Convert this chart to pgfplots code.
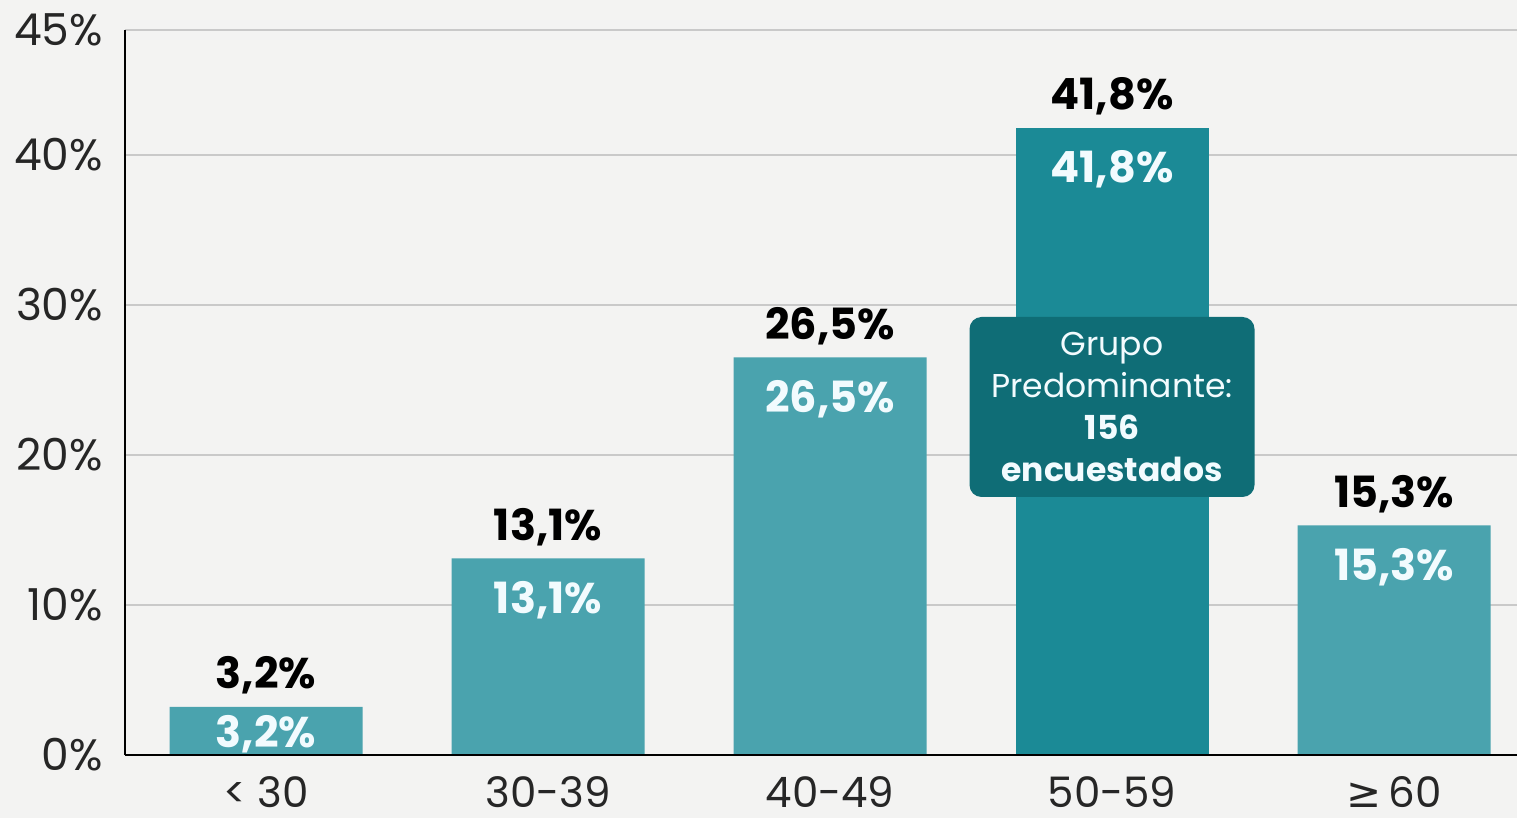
\documentclass[border=0pt]{standalone}
\usepackage{pgfplots}
\pgfplotsset{compat=1.18}
\usepackage{fontspec}
\setmainfont{Poppins}
\newfontfamily\dejavu{DejaVu Sans}
\definecolor{bg}{HTML}{F3F3F2}
\definecolor{barlight}{HTML}{4AA3AE}
\definecolor{bardark}{HTML}{1B8A96}
\definecolor{boxc}{HTML}{0F6D76}
\definecolor{gridc}{HTML}{C9C9C9}
\begin{document}
\begin{tikzpicture}
\fill[bg] (0,0) rectangle (758.5bp,409bp);
\useasboundingbox (0,0) rectangle (758.5bp,409bp);
\begin{axis}[
  at={(62.5bp,31.5bp)}, anchor=south west,
  scale only axis, width=696bp, height=362.5bp,
  xmin=-0.5, xmax=4.436, ymin=0, ymax=48.333,
  axis x line*=bottom, axis y line*=left,
  axis line style={-, black, line width=0.8pt},
  xtick={0,1,2,3,4},
  xticklabels={< 30, 30-39, 40-49, 50-59, {{\dejavu ≥}\,60}},
  ytick={0,10,20,30,40,48.333},
  yticklabels={0\%,10\%,20\%,30\%,40\%,45\%},
  ymajorgrids, grid style={gridc, line width=0.6pt},
  major tick length=0pt,
  tick label style={font=\fontsize{22bp}{25bp}\selectfont, text=black!85},
  yticklabel style={xshift=-7.5bp},
  xticklabel style={inner sep=0pt, anchor=north, yshift=-10.5bp,
    font=\fontsize{21bp}{24bp}\selectfont},
  ybar, bar width=96.5bp, bar shift=0pt,
  /pgf/number format/assume math mode=true,
  /pgf/number format/.cd, fixed, fixed zerofill, precision=1, use comma,
  /pgfplots/.cd,
  nodes near coords={\pgfmathprintnumber{\pgfplotspointmeta}\%},
]
% light bars with black labels above
\addplot[fill=barlight, draw=none,
  every node near coord/.append style={anchor=base, yshift=9bp,
    font=\fontsize{21.5bp}{26bp}\selectfont\bfseries, text=black}]
  coordinates {(0,3.2) (1,13.1) (2,26.5) (4,15.3)};
% dark highlighted bar
\addplot[fill=bardark, draw=none,
  every node near coord/.append style={anchor=base, yshift=9bp,
    font=\fontsize{21.5bp}{26bp}\selectfont\bfseries, text=black}]
  coordinates {(3,41.8)};
% white labels inside bars
\addplot[draw=none, fill=none,
  every node near coord/.append style={anchor=base, yshift=-27.5bp,
    font=\fontsize{21.5bp}{26bp}\selectfont\bfseries, text=white!95!cyan}]
  coordinates {(1,13.1) (2,26.5) (3,41.8) (4,15.3)};
\addplot[draw=none, fill=none,
  every node near coord/.append style={anchor=base, yshift=-20bp,
    font=\fontsize{21.5bp}{26bp}\selectfont\bfseries, text=white!95!cyan}]
  coordinates {(0,3.2)};
\node[fill=boxc, rounded corners=6bp, minimum width=142.5bp, minimum height=90bp,
  text=white!95!cyan, align=center, inner sep=0pt,
  font=\fontsize{16.5bp}{21bp}\selectfont]
  at (axis cs:3,23.2)
  {Grupo\\Predominante:\\{\bfseries 156}\\{\bfseries encuestados}};
\end{axis}
\draw[black, line width=0.8pt] (62.5bp,31.5bp) -- (758.5bp,31.5bp);
\end{tikzpicture}
\end{document}
